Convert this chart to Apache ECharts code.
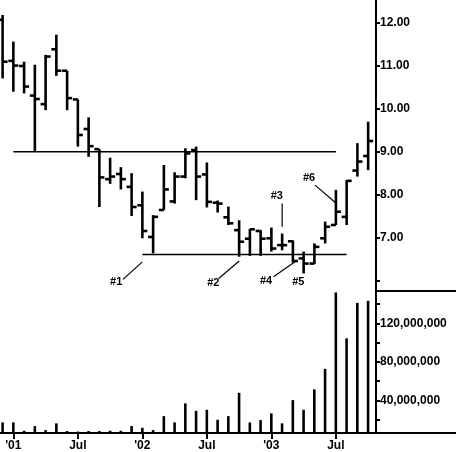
<!DOCTYPE html>
<html><head><meta charset="utf-8">
<script src="https://cdn.jsdelivr.net/npm/echarts@6/dist/echarts.min.js"></script>
<style>html,body{margin:0;padding:0;background:#fff}#c{width:456px;height:452px}</style>
</head><body><div id="c"></div>
<script>
// Monthly bars, Dec 2000 .. Oct 2003
const months = ['2000-12','2001-01','2001-02','2001-03','2001-04','2001-05','2001-06','2001-07','2001-08','2001-09','2001-10','2001-11',
  '2001-12','2002-01','2002-02','2002-03','2002-04','2002-05','2002-06','2002-07','2002-08','2002-09','2002-10','2002-11',
  '2002-12','2003-01','2003-02','2003-03','2003-04','2003-05','2003-06','2003-07','2003-08','2003-09','2003-10'];
const opens  = [12.08,11.12,11.00,10.31,10.11,11.39,10.89,10.22,9.53,9.06,8.36,8.48,8.18,7.75,7.01,7.64,7.84,8.42,9.04,8.47,7.81,7.47,7.17,6.97,7.15,6.98,6.82,6.91,6.51,6.39,6.98,7.29,7.48,8.56,8.90];
const highs  = [12.19,11.57,11.10,11.03,11.26,11.73,10.89,10.22,9.80,9.06,8.86,8.64,8.50,8.07,7.52,8.69,8.52,9.08,9.12,8.75,7.86,7.72,7.40,7.20,7.17,7.23,7.09,6.93,6.67,6.86,7.37,8.11,8.34,9.20,9.70];
const lows   = [10.71,10.40,10.36,9.02,9.97,10.77,9.97,9.12,8.88,7.71,8.25,8.12,7.50,6.98,6.63,7.64,7.79,8.38,7.87,7.70,7.58,7.29,6.55,6.57,6.57,6.67,6.70,6.41,6.16,6.38,6.86,7.29,7.29,8.42,8.57];
const closes = [11.10,11.01,10.52,10.23,11.22,10.89,10.25,9.39,9.13,8.40,8.42,8.36,7.71,7.15,7.48,8.12,8.42,8.96,8.42,7.83,7.79,7.33,6.90,7.19,6.97,6.74,6.82,6.45,6.39,6.78,7.25,7.60,8.32,8.77,9.25];
const volumes = [17.3,17.3,8.6,13.5,9.3,16.3,8.3,7.8,8.3,8.3,8.6,8.6,13.5,11.7,9.3,23.8,17.3,37.0,29.3,30.4,20.0,23.8,48.0,17.3,19.7,26.6,16.3,40.4,30.4,51.5,72.8,152,104.4,141.2,143.3].map(v => v * 1e6);

const xTickIndex = [1, 7, 13, 19, 25, 31];
const xTickLabels = ["'01", 'Jul', "'02", 'Jul', "'03", 'Jul'];
const priceTicks = [6, 7, 8, 9, 10, 11, 12];
const priceLabelTicks = [7, 8, 9, 10, 11, 12];
const volumeLabelTicks = [40e6, 80e6, 120e6];
const volumeTicks = [20e6, 40e6, 60e6, 80e6, 100e6, 120e6, 140e6];

// horizontal reference lines: [price, fromIndex, toIndex]
const resistanceLine = [9.0, 1, 31];
const supportLine = [6.6, 13, 32];

// annotations
const noteLabels = ['#1', '#2', '#3', '#4', '#5', '#6'];
const noteTextPos = [[10.56, 5.96], [19.6, 5.93], [25.5, 7.97], [24.5, 5.98], [27.5, 5.97], [28.5, 8.38]];
const noteLineFrom = [[11.2, 6.02], [20.1, 6.04], [26.0, 7.79], [25.2, 6.08], null, [29.06, 8.22]];
const noteLineTo = [[13.0, 6.43], [22.0, 6.45], [26.0, 7.25], [27.2, 6.43], null, [30.92, 7.82]];

const FONT = '"Liberation Sans", Arial, sans-serif';
const chart = echarts.init(document.getElementById('c'), null, {renderer: 'canvas'});

const ohlcData = months.map((m, i) => [i, opens[i], highs[i], lows[i], closes[i]]);
const volData = months.map((m, i) => [i, volumes[i]]);
const noteData = noteLabels.map((t, i) => [noteTextPos[i][0], noteTextPos[i][1], i]);

const VOL_MIN = 6.3e6, VOL_MAX = 153.5e6;

chart.setOption({
  animation: false,
  backgroundColor: '#fff',
  grid: [
    {left: 0, top: 0, width: 376, height: 291},
    {left: 0, top: 291, width: 456, height: 142}
  ],
  xAxis: [
    {type: 'value', gridIndex: 0, min: -0.242, max: 34.73, show: false},
    {type: 'value', gridIndex: 1, min: -0.242, max: 42.18,
      axisLine: {show: true, onZero: false, lineStyle: {color: '#000', width: 2}},
      axisTick: {show: true, customValues: xTickIndex, length: 6, lineStyle: {color: '#000', width: 2}},
      axisLabel: {show: true, customValues: xTickIndex, margin: 7,
        formatter: v => xTickLabels[xTickIndex.indexOf(Math.round(v))] || '',
        color: '#000', fontFamily: FONT, fontWeight: 'bold', fontSize: 12},
      splitLine: {show: false}}
  ],
  yAxis: [
    {type: 'value', gridIndex: 0, position: 'right', min: 5.75, max: 12.54,
      axisLine: {show: true, onZero: false, lineStyle: {color: '#000', width: 2}},
      axisTick: {show: true, customValues: priceTicks, length: 4, lineStyle: {color: '#000', width: 2}},
      axisLabel: {show: true, customValues: priceLabelTicks, margin: 4, formatter: v => v.toFixed(2),
        color: '#000', fontFamily: FONT, fontWeight: 'bold', fontSize: 12},
      splitLine: {show: false}},
    {type: 'value', gridIndex: 1, position: 'right', offset: -80, min: VOL_MIN, max: VOL_MAX,
      axisLine: {show: true, onZero: false, lineStyle: {color: '#000', width: 2}},
      axisTick: {show: true, customValues: volumeTicks, length: 4, lineStyle: {color: '#000', width: 2}},
      axisLabel: {show: true, customValues: volumeLabelTicks, margin: 4,
        formatter: v => Math.round(v).toLocaleString('en-US'),
        color: '#000', fontFamily: FONT, fontWeight: 'bold', fontSize: 12},
      splitLine: {show: false}}
  ],
  graphic: [
    {type: 'line', shape: {x1: 376, y1: 291, x2: 456, y2: 291}, style: {stroke: '#000', lineWidth: 2}}
  ],
  series: [
    {type: 'custom', xAxisIndex: 0, yAxisIndex: 0, data: ohlcData, clip: false,
      encode: {x: 0, y: [1, 2, 3, 4]},
      renderItem: (params, api) => {
        const i = api.value(0);
        const o = api.coord([i, api.value(1)]);
        const h = api.coord([i, api.value(2)]);
        const l = api.coord([i, api.value(3)]);
        const c = api.coord([i, api.value(4)]);
        const x = o[0];
        const st = {stroke: '#000', lineWidth: 2.6};
        return {type: 'group', children: [
          {type: 'line', shape: {x1: x, y1: h[1], x2: x, y2: l[1]}, style: st},
          {type: 'line', shape: {x1: x - 5, y1: o[1], x2: x, y2: o[1]}, style: st},
          {type: 'line', shape: {x1: x, y1: c[1], x2: x + 5, y2: c[1]}, style: st}
        ]};
      }},
    {type: 'line', xAxisIndex: 0, yAxisIndex: 0, symbol: 'none', silent: true,
      data: [[resistanceLine[1], resistanceLine[0]], [resistanceLine[2], resistanceLine[0]]],
      lineStyle: {color: '#000', width: 1.6}},
    {type: 'line', xAxisIndex: 0, yAxisIndex: 0, symbol: 'none', silent: true,
      data: [[supportLine[1], supportLine[0]], [supportLine[2], supportLine[0]]],
      lineStyle: {color: '#000', width: 1.6}},
    {type: 'custom', xAxisIndex: 0, yAxisIndex: 0, data: noteData, clip: false,
      renderItem: (params, api) => {
        const k = api.value(2);
        const p = api.coord([api.value(0), api.value(1)]);
        const children = [{type: 'text', x: p[0], y: p[1],
          style: {text: noteLabels[k], fill: '#000', font: 'bold 11px ' + FONT, align: 'center', verticalAlign: 'middle'}}];
        if (noteLineFrom[k]) {
          const a = api.coord(noteLineFrom[k]);
          const b = api.coord(noteLineTo[k]);
          children.push({type: 'line', shape: {x1: a[0], y1: a[1], x2: b[0], y2: b[1]}, style: {stroke: '#000', lineWidth: 1.2}});
        }
        return {type: 'group', children};
      }},
    {type: 'custom', xAxisIndex: 1, yAxisIndex: 1, data: volData,
      encode: {x: 0, y: 1},
      renderItem: (params, api) => {
        const i = api.value(0);
        const top = api.coord([i, api.value(1)]);
        const base = api.coord([i, VOL_MIN]);
        return {type: 'rect', shape: {x: top[0] - 1.3, y: top[1], width: 2.6, height: base[1] - top[1]},
          style: {fill: '#000'}};
      }}
  ]
});
</script>
</body></html>
